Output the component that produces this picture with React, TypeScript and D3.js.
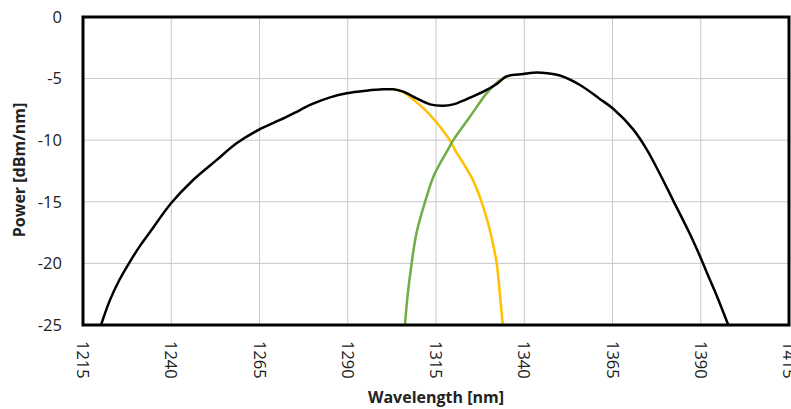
import React from "react";
import * as d3 from "d3";

const xTicks = [1215, 1240, 1265, 1290, 1315, 1340, 1365, 1390, 1415];
const yTicks = [0, -5, -10, -15, -20, -25];

const blackWl = [1220.1, 1222.6, 1225.3, 1228.1, 1231.1, 1234, 1240, 1246.2, 1252.9, 1258.5, 1265, 1270.8, 1276.5, 1280, 1285, 1289.7, 1295.3, 1300, 1302.9, 1305.7, 1309.5, 1313.3, 1317, 1319.9, 1323.7, 1328.4, 1332.2, 1335, 1339.7, 1342.5, 1346.5, 1350.1, 1355.8, 1361.4, 1365.2, 1370.8, 1374.6, 1378, 1382.2, 1386.9, 1389.9, 1392.1, 1394.5, 1397.8];
const blackPw = [-25, -23.0, -21.35, -19.95, -18.6, -17.45, -15.1, -13.23, -11.6, -10.25, -9.12, -8.36, -7.55, -7.05, -6.52, -6.19, -5.98, -5.87, -5.87, -6.06, -6.6, -7.09, -7.2, -7.09, -6.66, -6.06, -5.44, -4.82, -4.63, -4.52, -4.56, -4.75, -5.52, -6.65, -7.45, -9.1, -10.7, -12.5, -14.9, -17.6, -19.5, -21.0, -22.6, -25];

const yellowWl = [1302.9, 1305.7, 1308.5, 1311.4, 1315, 1318.9, 1320.4, 1323, 1325.4, 1327.9, 1329.8, 1331.2, 1332.2, 1333.1, 1333.9];
const yellowPw = [-5.87, -6.1, -6.7, -7.4, -8.5, -10.0, -10.8, -12.0, -13.2, -15.0, -16.8, -18.5, -20, -22.5, -25];

const greenWl = [1306.2, 1307, 1308.1, 1309.5, 1311.9, 1314.5, 1318.7, 1319.9, 1324.6, 1329.3, 1332, 1334.8];
const greenPw = [-25, -22.5, -20, -17.5, -15.0, -12.8, -10.6, -10.0, -8.1, -6.2, -5.4, -4.82];

const W = 791;
const H = 409;
const left = 83, right = 789, top = 17, bottom = 325;

export default function App() {
  const x = d3.scaleLinear().domain([1215, 1415]).range([left, right]);
  const y = d3.scaleLinear().domain([-25, 0]).range([bottom, top]);
  const line = d3
    .line<[number, number]>()
    .x((d) => x(d[0]))
    .y((d) => y(d[1]))
    .curve(d3.curveCatmullRom.alpha(0.5));
  const zip = (a: number[], b: number[]) => a.map((v, i) => [v, b[i]] as [number, number]);
  const font = "'Open Sans', 'DejaVu Sans', sans-serif";

  return (
    <svg width={W} height={H} style={{ position: "absolute", left: 0, top: 0, background: "#fff" }} fontFamily={font}>
      <rect x={0} y={0} width={W} height={H} fill="#fff" />
      {xTicks.map((t) => (
        <line key={"gx" + t} x1={x(t)} x2={x(t)} y1={top} y2={bottom} stroke="#c8c8c8" strokeWidth={1} />
      ))}
      {yTicks.map((t) => (
        <line key={"gy" + t} x1={left} x2={right} y1={y(t)} y2={y(t)} stroke="#c8c8c8" strokeWidth={1} />
      ))}
      <path d={line(zip(yellowWl, yellowPw)) || ""} fill="none" stroke="#FFC000" strokeWidth={2.5} />
      <path d={line(zip(greenWl, greenPw)) || ""} fill="none" stroke="#70AD47" strokeWidth={2.5} />
      <path d={line(zip(blackWl, blackPw)) || ""} fill="none" stroke="#000" strokeWidth={2.5} strokeLinejoin="round" />
      <rect x={left} y={top} width={right - left} height={bottom - top} fill="none" stroke="#000" strokeWidth={3} />
      {yTicks.map((t) => (
        <text key={"ty" + t} x={62} y={y(t)} dy="0.35em" textAnchor="end" fontSize={16.5} fill="#222">
          {t}
        </text>
      ))}
      {xTicks.map((t) => (
        <text
          key={"tx" + t}
          transform={`translate(${x(t)},${341}) rotate(90)`}
          dy="0.35em"
          textAnchor="start"
          fontSize={16.5}
          fill="#222"
        >
          {t}
        </text>
      ))}
      <text x={436} y={403} textAnchor="middle" fontSize={16} fontWeight="bold" fill="#222">
        Wavelength [nm]
      </text>
      <text transform={`translate(25,170) rotate(-90)`} textAnchor="middle" fontSize={16} fontWeight="bold" fill="#222">
        Power [dBm/nm]
      </text>
    </svg>
  );
}
